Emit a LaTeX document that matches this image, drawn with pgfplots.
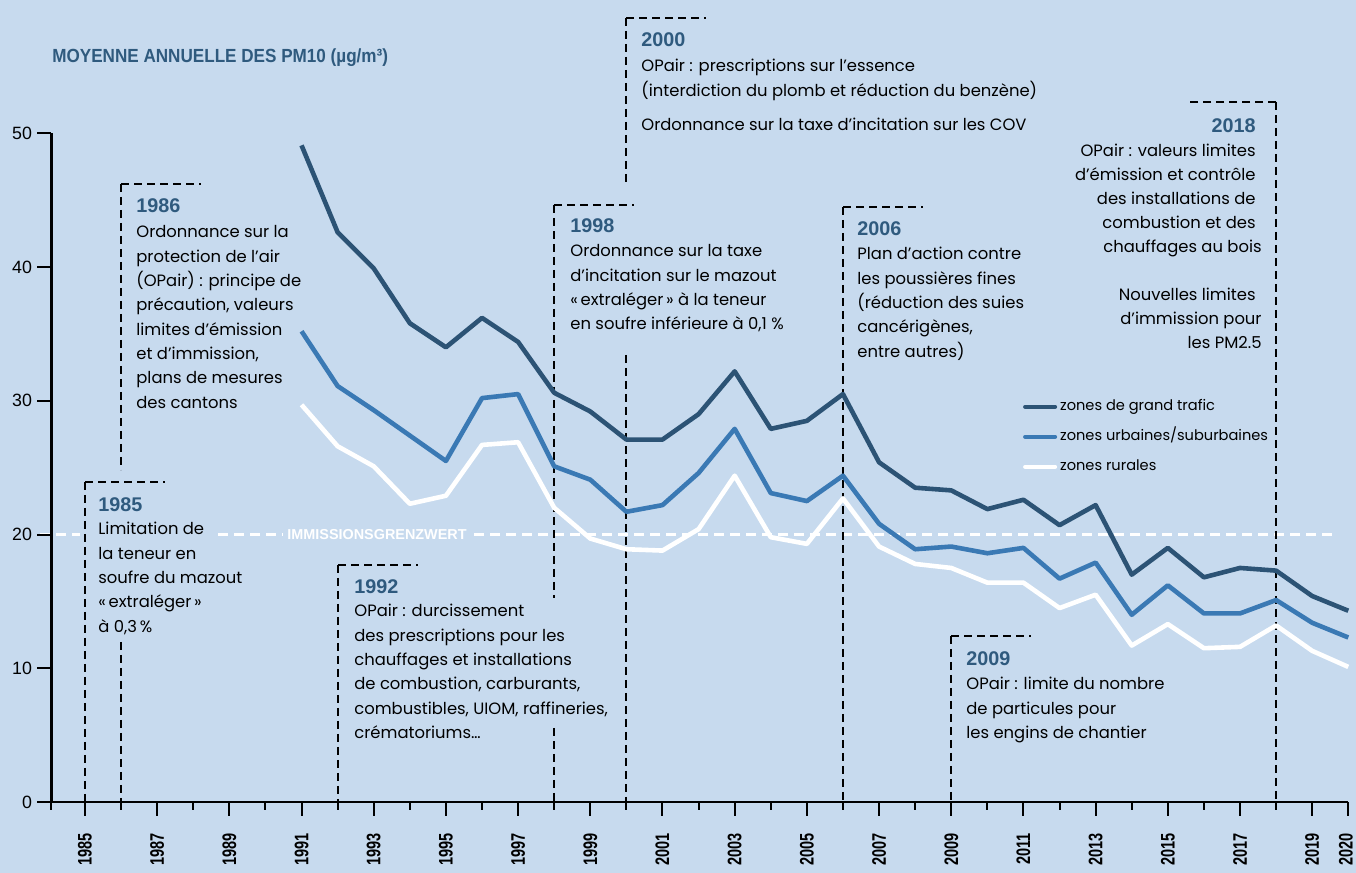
\documentclass[border=0pt]{standalone}
\usepackage{graphicx}
\usepackage{pgfplots}
\pgfplotsset{compat=1.18}
\usepackage{fontspec}
\setmainfont{Poppins}
\newfontfamily\lsans{Liberation Sans}
\definecolor{bg}{RGB}{199,218,238}
\definecolor{cdark}{RGB}{44,83,117}
\definecolor{cmid}{RGB}{58,121,180}
\definecolor{chead}{RGB}{47,90,126}
\newcommand\txt{\fontsize{8.2}{10}\selectfont}
\newcommand\yrf{\lsans\bfseries\fontsize{9.9}{11}\selectfont}
\newcommand\block[5]{%
  \node[anchor=base west,inner sep=0pt,font=\yrf,text=chead] at (#1,#2) {#3};
  \foreach \myline [count=\i from 0] in {#5} {\node[anchor=base west,inner sep=0pt,font=\txt] at (#1,#4+24.3*\i) {\myline};}
}
\tikzset{dl/.style={black,line width=0.85pt,dash pattern=on 4pt off 2.5pt}}
\begin{document}
\begin{tikzpicture}
\fill[bg] (0,0) rectangle (678pt,436.5pt);
\begin{scope}[x=0.5pt,y=-0.5pt,shift={(0pt,436.5pt)}]
% threshold line
\draw[white,line width=1.2pt,dash pattern=on 5pt off 3pt] (40,534.4)--(80,534.4);
\draw[white,line width=1.2pt,dash pattern=on 5pt off 3pt] (218,534.4)--(1332,534.4);
\node[anchor=base west,fill=bg,inner sep=2pt,text=white,font=\lsans\bfseries\fontsize{7.2}{8}\selectfont] at (283,540) {IMMISSIONSGRENZWERT};
% dashed event lines
\draw[dl] (85,482)--(165,482); \draw[dl] (85,482)--(85,802.7);
\draw[dl] (121,184)--(201,184); \draw[dl] (121,184)--(121,470); \draw[dl] (121,642)--(121,802.7);
\draw[dl] (338,565)--(418,565); \draw[dl] (338,565)--(338,802.7);
\draw[dl] (554,205)--(634,205); \draw[dl] (554,205)--(554,598); \draw[dl] (554,728)--(554,802.7);
\draw[dl] (626,18)--(706,18); \draw[dl] (626,18)--(626,186); \draw[dl] (626,355)--(626,802.7);
\draw[dl] (843,207)--(923,207); \draw[dl] (843,207)--(843,802.7);
\draw[dl] (951,636)--(1031,636); \draw[dl] (951,636)--(951,802.7);
\draw[dl] (1276,102)--(1186,102); \draw[dl] (1276,102)--(1276,802.7);
% title
\node[anchor=base west,inner sep=0pt,text=chead,font=\lsans\bfseries\fontsize{9.5}{11}\selectfont,xscale=0.9] at (52,63) {MOYENNE ANNUELLE DES PM10 (µg/m³)};
% text blocks
\block{98}{512}{1985}{535}{{Limitation de},{la teneur en},{soufre du mazout},{«\,extraléger\,»},{à 0,3\,\%}}
\block{136}{213}{1986}{238}{{Ordonnance sur la},{protection de l’air},{(OPair) : principe de},{précaution, valeurs},{limites d’émission},{et d’immission,},{plans de mesures},{des cantons}}
\block{354}{594}{1992}{617}{{OPair : durcissement},{des prescriptions pour les},{chauffages et installations},{de combustion, carburants,},{combustibles, UIOM, raffineries,},{crématoriums…}}
\block{570}{233}{1998}{257}{{Ordonnance sur la taxe},{d’incitation sur le mazout},{«\,extraléger\,» à la teneur},{en soufre inférieure à 0,1 \%}}
\block{641}{47}{2000}{72}{{OPair : prescriptions sur l’essence},{(interdiction du plomb et réduction du benzène)}}
\node[anchor=base west,inner sep=0pt,font=\txt] at (641,131) {Ordonnance sur la taxe d’incitation sur les COV};
\block{857}{236}{2006}{260}{{Plan d’action contre},{les poussières fines},{(réduction des suies},{cancérigènes,},{entre autres)}}
\block{966}{666}{2009}{690}{{OPair : limite du nombre},{de particules pour},{les engins de chantier}}
% 2018 right aligned
\node[anchor=base east,inner sep=0pt,font=\yrf,text=chead] at (1256,133) {2018};
\node[anchor=base east,inner sep=0pt,font=\txt] at (1256,157) {OPair : valeurs limites};
\node[anchor=base east,inner sep=0pt,font=\txt] at (1256,181) {d’émission et contrôle};
\node[anchor=base east,inner sep=0pt,font=\txt] at (1256,205) {des installations de};
\node[anchor=base east,inner sep=0pt,font=\txt] at (1256,229) {combustion et des};
\node[anchor=base east,inner sep=0pt,font=\txt] at (1262,253) {chauffages au bois};
\node[anchor=base east,inner sep=0pt,font=\txt] at (1256,301) {Nouvelles limites};
\node[anchor=base east,inner sep=0pt,font=\txt] at (1262,325) {d’immission pour};
\node[anchor=base east,inner sep=0pt,font=\txt] at (1262,349) {les PM2.5};
\end{scope}
\begin{axis}[
  at={(25.7pt,35.5pt)}, anchor=south west,
  scale only axis, width=648.45pt, height=334.35pt,
  xmin=1984.07, xmax=2020, ymin=0, ymax=50,
  axis x line=bottom, axis y line=left,
  axis line style={-,line width=1.2pt,black},
  tick align=outside,
  xtick={1985,1987,...,2019},
  extra x ticks={2020},
  extra x tick labels={\scalebox{0.74}[1]{2020}},
  extra x tick style={xticklabel style={yshift=1.2pt}},
  minor xtick={1984.07,1986,1988,...,2018},
  ytick={0,10,...,50},
  major tick length=7pt, minor tick length=4pt,
  every tick/.style={black,line width=1pt},
  /pgf/number format/assume math mode=true,
  /pgf/number format/1000 sep={},
  xticklabel={\scalebox{0.74}[1]{\pgfmathprintnumber{\tick}}},
  xticklabel shift=8.5pt,
  xticklabel style={rotate=90,anchor=east,inner sep=0pt,font=\lsans\bfseries\fontsize{9.8}{10}\selectfont},
  yticklabel style={anchor=east,inner sep=2.5pt,font=\lsans\fontsize{8.9}{10}\selectfont},
  clip=false,
  legend style={at={(axis cs:2010.98,30.33)},anchor=north west,draw=none,fill=none,
    inner sep=0pt,row sep=5pt,font=\fontsize{7.3}{9}\selectfont,
    nodes={inner sep=1.5pt,text height=5.5pt,text depth=1.5pt}},
  legend cell align=left,
  legend image code/.code={\draw[#1,line width=2pt,line cap=round] (0pt,0pt) -- (15pt,0pt);},
]
\addplot[cdark,line width=2.3pt,line join=round] coordinates {
(1991,49.1)(1992,42.6)(1993,39.9)(1994,35.8)(1995,34.0)(1996,36.2)(1997,34.4)(1998,30.6)(1999,29.2)(2000,27.1)
(2001,27.1)(2002,29.0)(2003,32.2)(2004,27.9)(2005,28.5)(2006,30.5)(2007,25.4)(2008,23.5)(2009,23.3)(2010,21.9)
(2011,22.6)(2012,20.7)(2013,22.2)(2014,17.0)(2015,19.0)(2016,16.8)(2017,17.5)(2018,17.3)(2019,15.4)(2020,14.3)};
\addplot[cmid,line width=2.3pt,line join=round] coordinates {
(1991,35.2)(1992,31.1)(1993,29.3)(1994,27.4)(1995,25.5)(1996,30.2)(1997,30.5)(1998,25.1)(1999,24.1)(2000,21.7)
(2001,22.2)(2002,24.6)(2003,27.9)(2004,23.1)(2005,22.5)(2006,24.4)(2007,20.8)(2008,18.9)(2009,19.1)(2010,18.6)
(2011,19.0)(2012,16.7)(2013,17.9)(2014,14.0)(2015,16.2)(2016,14.1)(2017,14.1)(2018,15.1)(2019,13.4)(2020,12.3)};
\addplot[white,line width=2.3pt,line join=round] coordinates {
(1991,29.7)(1992,26.6)(1993,25.1)(1994,22.3)(1995,22.9)(1996,26.7)(1997,26.9)(1998,22.0)(1999,19.7)(2000,18.9)
(2001,18.8)(2002,20.4)(2003,24.4)(2004,19.8)(2005,19.3)(2006,22.7)(2007,19.1)(2008,17.8)(2009,17.5)(2010,16.4)
(2011,16.4)(2012,14.5)(2013,15.5)(2014,11.7)(2015,13.3)(2016,11.5)(2017,11.6)(2018,13.2)(2019,11.3)(2020,10.1)};
\legend{zones de grand trafic,zones urbaines/suburbaines,zones rurales}
\end{axis}
\end{tikzpicture}
\end{document}
